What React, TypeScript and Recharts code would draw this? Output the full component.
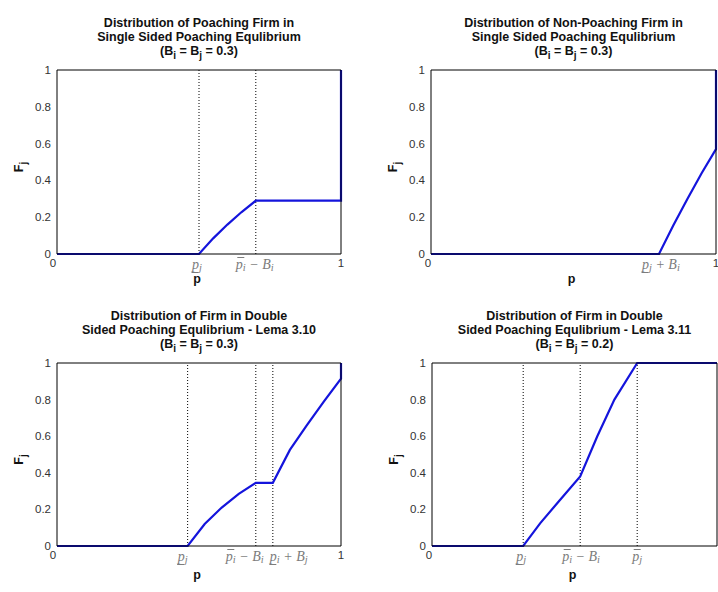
import React from 'react';
import { LineChart, Line, XAxis, YAxis, ReferenceLine } from 'recharts';

// values
const yTicks = [0, 0.2, 0.4, 0.6, 0.8, 1];

const poachP = [0, 0.5, 0.55, 0.6, 0.65, 0.7, 1, 1];
const poachF = [0, 0, 0.085, 0.16, 0.228, 0.29, 0.29, 1];
const poachTicks = [0, 0.5, 0.7, 1];
const poachTickLabels = ['0', '_p_j', '^p_i − B_i', '1'];

const nonPoachP = [0, 0.8, 0.85, 0.9, 0.95, 1, 1];
const nonPoachF = [0, 0, 0.155, 0.3, 0.44, 0.57, 1];
const nonPoachTicks = [0, 0.8, 1];
const nonPoachTickLabels = ['0', '_p_j + B_i', '1'];

const lema310P = [0, 0.46, 0.52, 0.58, 0.64, 0.7, 0.76, 0.82, 0.88, 0.94, 1, 1];
const lema310F = [0, 0, 0.12, 0.21, 0.285, 0.345, 0.345, 0.525, 0.66, 0.79, 0.915, 1];
const lema310Ticks = [0, 0.46, 0.7, 0.76, 1];
const lema310TickLabels = ['0', '_p_j', '^p_i − B_i', '_p_i + B_j', '1'];

const lema311P = [0, 0.32, 0.38, 0.44, 0.52, 0.58, 0.64, 0.72, 1];
const lema311F = [0, 0, 0.125, 0.235, 0.38, 0.6, 0.8, 1, 1];
const lema311Ticks = [0, 0.32, 0.52, 0.72];
const lema311TickLabels = ['0', '_p_j', '^p_i − B_i', '^p_j'];

const titles1 = ['Distribution of Poaching Firm in', 'Single Sided Poaching Equlibrium', '(B_i = B_j = 0.3)'];
const titles2 = ['Distribution of Non-Poaching Firm in', 'Single Sided Poaching Equlibrium', '(B_i = B_j = 0.3)'];
const titles3 = ['Distribution of Firm in Double', 'Sided Poaching Equlibrium - Lema 3.10', '(B_i = B_j = 0.3)'];
const titles4 = ['Distribution of Firm in Double', 'Sided Poaching Equlibrium - Lema 3.11', '(B_i = B_j = 0.2)'];

const W = 359;
const H = 296;
const SANS = '"Liberation Sans", Arial, Helvetica, sans-serif';
const SERIF = '"Liberation Serif", "Times New Roman", serif';
const BLUE = '#1414dc';
const MATH_GRAY = '#7c7c7c';

// text with "_x" subscripts
const richSpans = (s: string, subSize: number, shift: number) =>
  s.split(/_([a-z])/).map((part, k) =>
    k % 2 ? (
      <tspan key={k} fontSize={subSize} dy={shift}>{part}</tspan>
    ) : (
      <tspan key={k} dy={k ? -shift : 0}>{part}</tspan>
    )
  );

const AxisTick = (props: any) => {
  const { x, y, index, labels, shifts } = props;
  const lab: string = labels[index];
  const dx = shifts[index] || 0;
  if (/^[0-9.]+$/.test(lab)) {
    return (
      <text x={x + dx} y={y + 12.5} textAnchor="middle" fontSize={11.5} fill="#333" fontFamily={SANS}>
        {lab}
      </text>
    );
  }
  const over = lab[0] === '^';
  const x0 = x + dx;
  const base = y + 14.5;
  return (
    <g>
      <text x={x0} y={base} fontFamily={SERIF} fontStyle="italic" fontSize={14} fill={MATH_GRAY}>
        {richSpans(lab.slice(1), 10.5, 2.5)}
      </text>
      {over ? (
        <line x1={x0 + 1.5} x2={x0 + 8.5} y1={base - 11} y2={base - 11} stroke={MATH_GRAY} />
      ) : (
        <line x1={x0 - 0.5} x2={x0 + 6.5} y1={base + 4} y2={base + 4} stroke={MATH_GRAY} />
      )}
    </g>
  );
};

type Plot = { l: number; t: number; r: number; b: number };

const Panel = ({ left, top, plot, titles, p, F, ticks, tickLabels, tickShifts, grid, xLabelDy }: {
  left: number; top: number; plot: Plot; titles: string[]; p: number[]; F: number[];
  ticks: number[]; tickLabels: string[]; tickShifts: number[]; grid: boolean; xLabelDy: number;
}) => {
  const data = p.map((v, i) => ({ p: v, F: F[i] }));
  const cx = (plot.l + plot.r) / 2;
  const cy = (plot.t + plot.b) / 2;
  const inner = ticks.filter((v) => v > 0 && v < 1);
  return (
    <div style={{ position: 'absolute', left, top, width: W, height: H }}>
      <LineChart width={W} height={H} data={data} margin={{ top: plot.t, left: 0, right: W - plot.r, bottom: H - plot.b - 30 }}>
        <XAxis
          dataKey="p" type="number" domain={[0, 1]} ticks={ticks} interval={0} height={30}
          axisLine={{ stroke: '#000' }} tickLine={false} tickSize={0} tickMargin={0}
          tick={(pr: any) => <AxisTick {...pr} labels={tickLabels} shifts={tickShifts} />}
        />
        <XAxis xAxisId="bt" type="number" domain={[0, 1]} ticks={ticks} interval={0} mirror tick={false} axisLine={false} tickSize={3} tickLine={{ stroke: '#000' }} />
        <XAxis xAxisId="t" orientation="top" type="number" domain={[0, 1]} ticks={ticks} interval={0} mirror tick={false} tickSize={3} axisLine={{ stroke: '#000' }} tickLine={{ stroke: '#000' }} />
        <YAxis
          type="number" domain={[0, 1]} ticks={yTicks} width={plot.l} interval={0}
          axisLine={{ stroke: '#000' }} tickLine={false} tickSize={0} tickMargin={6}
          tick={{ fontSize: 11.5, fill: '#333', fontFamily: SANS }}
        />
        <YAxis yAxisId="lt" type="number" domain={[0, 1]} ticks={yTicks} interval={0} mirror tick={false} axisLine={false} tickSize={3} tickLine={{ stroke: '#000' }} />
        <YAxis yAxisId="r" orientation="right" type="number" domain={[0, 1]} ticks={yTicks} interval={0} mirror tick={false} tickSize={3} axisLine={{ stroke: '#000' }} tickLine={{ stroke: '#000' }} />
        {grid && inner.map((v) => (
          <ReferenceLine key={v} x={v} stroke="#000" strokeDasharray="1 2" />
        ))}
        <Line type="linear" dataKey="F" stroke={BLUE} strokeWidth={2.2} dot={false} isAnimationActive={false} />
      </LineChart>
      <svg width={W} height={H} style={{ position: 'absolute', left: 0, top: 0, pointerEvents: 'none' }}>
        {titles.map((line, i) => (
          <text key={i} x={cx} y={plot.t - 43 + i * 14} textAnchor="middle" fontFamily={SANS} fontWeight="bold" fontSize={12.5} fill="#111">
            {richSpans(line, 10, 4)}
          </text>
        ))}
        <text transform={`translate(${plot.l - 34}, ${cy + 5}) rotate(-90)`} textAnchor="middle" fontFamily={SANS} fontWeight="bold" fontSize={12.5} fill="#111">
          {richSpans('F_j', 10, 4)}
        </text>
        <text x={cx - 2} y={plot.b + xLabelDy} textAnchor="middle" fontFamily={SANS} fontWeight="bold" fontSize={12.5} fill="#111">
          p
        </text>
      </svg>
    </div>
  );
};

export default function App() {
  return (
    <div style={{ position: 'absolute', left: 0, top: 0, width: 718, height: 592, background: '#fff', overflow: 'hidden' }}>
      <Panel left={0} top={0} plot={{ l: 57, t: 70, r: 341, b: 254 }} titles={titles1} p={poachP} F={poachF}
        ticks={poachTicks} tickLabels={poachTickLabels} tickShifts={[-4, -7, -20, 0]} grid xLabelDy={29} />
      <Panel left={359} top={0} plot={{ l: 72, t: 70, r: 357, b: 254 }} titles={titles2} p={nonPoachP} F={nonPoachF}
        ticks={nonPoachTicks} tickLabels={nonPoachTickLabels} tickShifts={[-3, -17, 0]} grid={false} xLabelDy={29} />
      <Panel left={0} top={296} plot={{ l: 57, t: 67, r: 341, b: 250 }} titles={titles3} p={lema310P} F={lema310F}
        ticks={lema310Ticks} tickLabels={lema310TickLabels} tickShifts={[-4, -10, -30, -3, 0]} grid xLabelDy={33} />
      <Panel left={359} top={296} plot={{ l: 73, t: 67, r: 358, b: 250 }} titles={titles4} p={lema311P} F={lema311F}
        ticks={lema311Ticks} tickLabels={lema311TickLabels} tickShifts={[-3, -7, -18, -5]} grid xLabelDy={33} />
    </div>
  );
}
